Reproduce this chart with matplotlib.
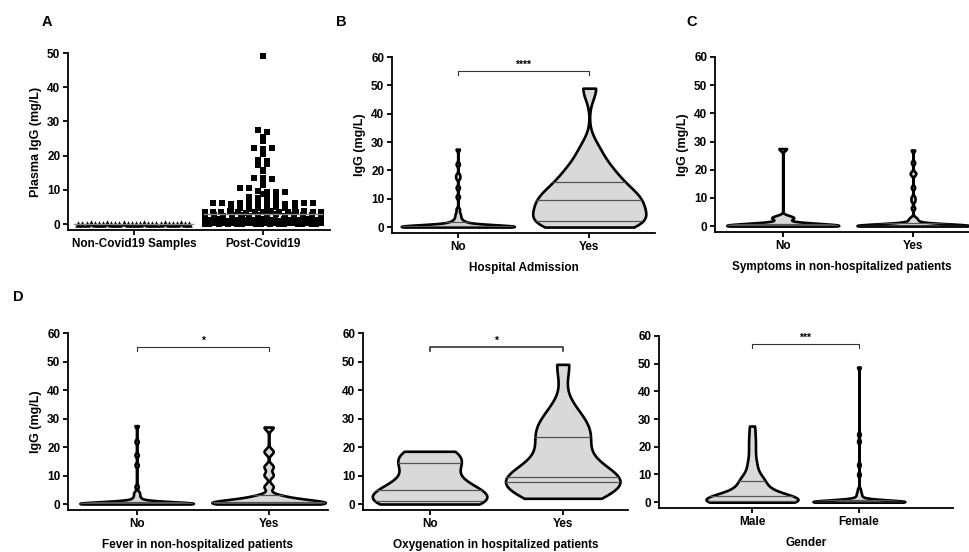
import numpy as np
import matplotlib.pyplot as plt

plt.rcParams['font.family'] = ['Liberation Sans', 'DejaVu Sans']
plt.rcParams['font.weight'] = 'bold'
plt.rcParams['axes.labelweight'] = 'bold'

# ---------------- data ----------------
# panel A : plasma IgG, dot plot
non_covid = [0.0, 0.1, 0.0, 0.2, 0.1, 0.0, 0.1, 0.2, 0.0, 0.1, 0.0, 0.2, 0.1, 0.0,
             0.1, 0.0, 0.2, 0.1, 0.0, 0.1, 0.0, 0.2, 0.1, 0.0, 0.1, 0.2, 0.0, 0.1]
post_covid = [49.0, 27.5, 26.9, 25.4, 24.2, 22.1, 22.0, 22.3, 20.4, 18.7, 18.5,
              17.4, 17.6, 15.8, 15.6, 13.5, 13.4, 13.3, 12.6, 11.5, 10.6, 10.4,
              9.6, 9.5, 9.4, 9.5, 8.9, 7.8, 7.7, 7.6, 7.7,
              6.0, 6.1, 5.9, 6.2, 6.0, 5.8, 6.1, 6.0, 5.9, 6.2, 6.0, 6.1,
              4.4, 4.6, 4.5, 4.8, 4.4, 4.9, 4.7, 4.5,
              3.5, 3.6, 3.4, 3.7, 3.5, 3.3, 3.6, 3.5, 3.8, 3.4, 3.6, 3.5, 3.7, 3.4, 3.5,
              2.5, 2.6, 2.4, 2.7, 2.5, 2.3, 2.6, 2.5, 2.8, 2.4, 2.6, 2.5, 2.7, 2.4,
              1.2, 1.3, 1.1, 1.4, 1.2, 1.0, 1.3, 1.2, 1.5, 1.1, 1.3, 1.2, 1.4,
              1.1, 1.2, 1.3, 1.0, 1.4, 1.2, 1.1, 1.3, 1.2, 1.5, 1.1, 1.2, 1.3,
              0.0, 0.1, 0.2, 0.0, 0.3, 0.1, 0.2, 0.0, 0.1, 0.4, 0.2, 0.0, 0.1,
              0.3, 0.0, 0.2, 0.1, 0.0, 0.2, 0.3, 0.1, 0.0, 0.2, 0.1, 0.0, 0.3]
a_labels = ['Non-Covid19 Samples', 'Post-Covid19']

zeros_a = [0.0, 0.0, 0.1, 0.1, 0.2, 0.2, 0.3, 0.3, 0.4, 0.0, 0.1, 0.2, 0.3, 0.1,
           0.0, 0.2, 0.1, 0.3, 0.2, 0.0, 0.1, 0.2, 0.4, 0.5, 0.1, 0.0, 0.3, 0.2,
           0.1, 0.6, 0.0, 0.2, 0.1, 0.3]

# panel B : hospital admission
hosp_no = zeros_a + [0.8, 1.0, 1.2, 1.5, 1.8, 2.0, 2.5, 3.2, 4.0, 4.9, 6.3, 10.7,
                     13.9, 17.3, 18.4, 22.2, 27.5]
hosp_yes = [0, 0.5, 1, 1.5, 1.8, 2, 4.5, 6, 7, 8.5, 9.5, 10, 11, 12.5, 14, 16,
            18, 20, 23, 28, 49]

# panel C : symptoms in non-hospitalized patients
sympt_no = [0.0, 0.1, 0.2, 0.0, 0.3, 0.1, 0.2, 0.4, 0.0, 0.1, 0.3, 0.2, 0.5,
            0.1, 0.8, 1.2, 2.7, 3.0, 3.3, 27.5]
sympt_yes = zeros_a + [1.0, 1.5, 2.0, 2.5, 3.0, 6.4, 9.0, 10.2, 13.7, 18.3,
                       19.0, 22.5, 27.0]

# panel D : fever, oxygenation, gender
fever_no = zeros_a + [0.8, 1.0, 1.5, 2.0, 2.6, 3.5, 4.2, 6.1, 13.7, 17.2, 21.9, 27.5]
fever_yes = [0.0, 0.1, 0.2, 0.3, 0.5, 0.2, 0.8, 1.2, 1.8, 2.5, 3.0, 0.4, 0.1,
             0.0, 0.6, 1.5, 6.1, 10.2, 13.1, 18.4, 27.0]
oxy_no = [0, 0.2, 0.6, 1, 2.5, 3.5, 5, 6, 9, 14.5, 14.6, 17, 18.5]
oxy_yes = [2, 3, 5, 6.5, 7.5, 8, 8.5, 9, 9.5, 9.5, 14, 18, 22.5, 24, 26, 29, 33, 49]
male = [0.0, 0.0, 0.1, 0.1, 0.2, 0.2, 0.3, 0.4, 0.5, 0.6, 0.8, 1.0, 0.0, 0.2,
        0.3, 0.1, 1.2, 1.5, 1.8, 2.0, 2.3, 2.6, 3.0, 3.4, 3.8, 4.3, 5.0, 5.8,
        6.6, 7.5, 7.7, 8.5, 9.5, 11, 13, 15, 18, 21, 24, 27.5]
female = zeros_a + [0.8, 1.0, 1.5, 2.0, 2.8, 3.5, 4.7, 10.0, 13.5, 22.0, 24.5, 48.8]

# ---------------- helpers ----------------
def style(ax, ymax, xlim):
    for s in ['top', 'right']:
        ax.spines[s].set_visible(False)
    for s in ['left', 'bottom']:
        ax.spines[s].set_linewidth(1.3)
    ax.tick_params(direction='out', length=3.5, width=1.3, labelsize=8.5, pad=2)
    ax.set_yticks(np.arange(0, ymax + 1, 10))
    ax.set_ylim(-ymax * 0.035, ymax)
    ax.set_xlim(*xlim)


def violin(ax, vals, pos, bw):
    vals = np.asarray(vals, float)
    parts = ax.violinplot([vals], positions=[pos], widths=0.86, showextrema=False,
                          bw_method=bw / np.std(vals, ddof=1), points=500)
    body = parts['bodies'][0]
    body.set_facecolor('#d9d9d9')
    body.set_edgecolor('black')
    body.set_linewidth(1.9)
    body.set_alpha(1)
    for q in np.percentile(vals, [25, 50, 75]):
        ln, = ax.plot([pos - 0.5, pos + 0.5], [q, q], color='#555555', lw=0.9)
        ln.set_clip_path(body.get_paths()[0], ax.transData)


def sig(ax, y, text, lw=0.8):
    ax.plot([0, 0, 1, 1], [y - 1.3, y, y, y - 1.3], color='#333333', lw=lw)
    ax.text(0.5, y + 0.6, text, ha='center', va='bottom', fontsize=7.5)


def swarm(vals, pos, row_h=1.25, step=0.07, max_w=0.9):
    vals = np.asarray(vals, float)
    rows = np.round(vals / row_h).astype(int)
    xs = np.zeros(len(vals))
    for r in np.unique(rows):
        idx = np.where(rows == r)[0]
        k = len(idx)
        s = min(step, max_w / max(k - 1, 1))
        xs[idx] = pos + (np.arange(k) - (k - 1) / 2) * s
    return xs


W, H = 970, 552
fig = plt.figure(figsize=(9.7, 5.52), dpi=100)


def add_axes(l, t, r, b):
    return fig.add_axes([l / W, 1 - b / H, (r - l) / W, (b - t) / H])


# ---------------- panel A ----------------
axA = add_axes(68, 53, 330, 230)
style(axA, 50, (-0.51, 1.52))
axA.scatter(swarm(non_covid, 0, max_w=0.86), non_covid, marker='^', s=22,
            color='black', linewidths=0, zorder=3)
axA.scatter(swarm(post_covid, 1), post_covid, marker='s', s=15,
            color='black', linewidths=0, zorder=3)
for i, v in enumerate([non_covid, post_covid]):
    axA.plot([i - 0.46, i + 0.46], [np.median(v)] * 2, color='#888888', lw=1.0, zorder=4)
axA.set_xticks([0, 1])
axA.set_xticklabels(a_labels)
axA.set_ylabel('Plasma IgG (mg/L)', fontsize=9, labelpad=4)

# ---------------- panel B ----------------
axB = add_axes(392, 57, 655, 233)
style(axB, 60, (-0.5, 1.5))
violin(axB, hosp_no, 0, 0.6)
violin(axB, hosp_yes, 1, 4.0)
sig(axB, 55, '****')
axB.set_xticks([0, 1])
axB.set_xticklabels(['No', 'Yes'])
axB.set_xlabel('Hospital Admission', fontsize=8.5, labelpad=7)
axB.set_ylabel('IgG (mg/L)', fontsize=9, labelpad=4)

# ---------------- panel C ----------------
axC = add_axes(715, 57, 969, 232)
style(axC, 60, (-0.52, 1.43))
violin(axC, sympt_no, 0, 0.7)
violin(axC, sympt_yes, 1, 0.6)
axC.set_xticks([0, 1])
axC.set_xticklabels(['No', 'Yes'])
axC.set_xlabel('Symptoms in non-hospitalized patients', fontsize=8.5, labelpad=7)
axC.set_ylabel('IgG (mg/L)', fontsize=9, labelpad=4)

# ---------------- panel D ----------------
axD1 = add_axes(68, 333, 328, 510)
style(axD1, 60, (-0.52, 1.45))
violin(axD1, fever_no, 0, 0.6)
violin(axD1, fever_yes, 1, 1.0)
sig(axD1, 55, '*')
axD1.set_xticks([0, 1])
axD1.set_xticklabels(['No', 'Yes'])
axD1.set_xlabel('Fever in non-hospitalized patients', fontsize=8.5, labelpad=7)
axD1.set_ylabel('IgG (mg/L)', fontsize=9, labelpad=4)

axD2 = add_axes(363, 333, 628, 510)
style(axD2, 60, (-0.5, 1.49))
violin(axD2, oxy_no, 0, 4.0)
violin(axD2, oxy_yes, 1, 5.5)
sig(axD2, 55, '*', lw=1.2)
axD2.set_xticks([0, 1])
axD2.set_xticklabels(['No', 'Yes'])
axD2.set_xlabel('Oxygenation in hospitalized patients', fontsize=8.5, labelpad=7)

axD3 = add_axes(659, 336, 953, 508)
style(axD3, 60, (-0.87, 1.88))
violin(axD3, male, 0, 2.0)
violin(axD3, female, 1, 0.6)
sig(axD3, 57, '***')
axD3.set_xticks([0, 1])
axD3.set_xticklabels(['Male', 'Female'])
axD3.set_xlabel('Gender', fontsize=8.5, labelpad=7)

# panel letters
for txt, x, y in [('A', 47, 22), ('B', 341, 22), ('C', 692, 22), ('D', 18, 297)]:
    fig.text(x / W, 1 - y / H, txt, fontsize=10.5, fontweight='bold',
             ha='center', va='center')

fig.savefig('out.png', dpi=100)
